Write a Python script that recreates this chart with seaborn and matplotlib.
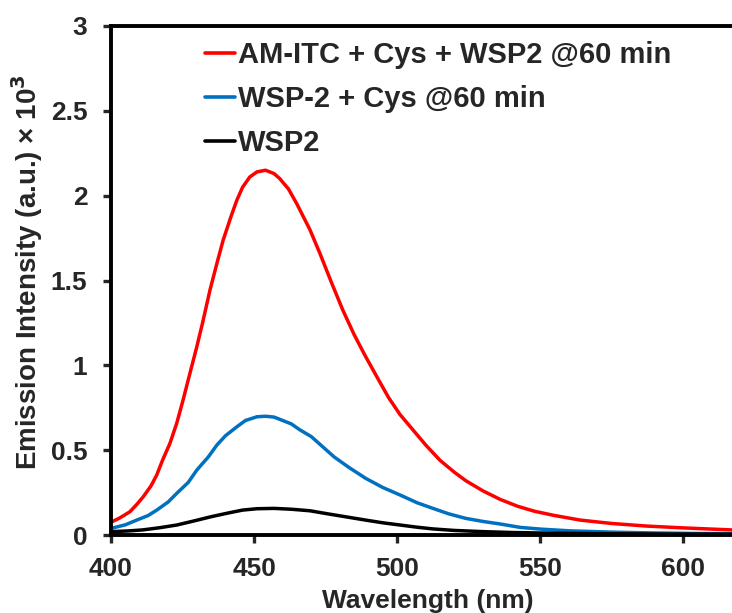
import matplotlib
matplotlib.use("Agg")
import matplotlib.pyplot as plt
import seaborn as sns
import pandas as pd

# ---- data ----
labels = ["AM-ITC + Cys + WSP2 @60 min", "WSP-2 + Cys @60 min", "WSP2"]
colors = ["#FF0000", "#0070C0", "#000000"]

red_x = [400, 403, 406.6, 409, 411.3, 414, 416, 418, 420.6, 423, 425.2, 428, 430, 432,
         434.6, 437, 439.2, 442, 444, 446, 448.5, 451, 454, 457, 459, 462, 465, 469.5,
         473, 477, 481, 485, 489, 493, 497, 501, 505.5, 510, 515, 520, 524, 530, 536,
         542, 548, 555, 564, 575, 587, 600, 617]
red_y = [0.075, 0.10, 0.137, 0.18, 0.226, 0.29, 0.354, 0.44, 0.54, 0.66, 0.796, 0.98,
         1.11, 1.25, 1.444, 1.60, 1.738, 1.88, 1.974, 2.05, 2.11, 2.14, 2.15, 2.13, 2.10,
         2.04, 1.95, 1.80, 1.66, 1.49, 1.326, 1.18, 1.051, 0.93, 0.81, 0.71, 0.62, 0.53,
         0.44, 0.37, 0.32, 0.26, 0.21, 0.17, 0.14, 0.115, 0.088, 0.068, 0.053, 0.042, 0.03]

blue_x = [400, 405, 409, 413, 416, 420, 423, 427, 430, 434, 437, 440, 444, 447, 451, 454,
          457, 460, 463, 466, 470, 474, 478, 483, 489, 495, 501, 507, 512.5, 518, 524,
          530, 536, 543, 550, 560, 575, 590, 605, 617]
blue_y = [0.039, 0.06, 0.088, 0.115, 0.147, 0.195, 0.246, 0.31, 0.383, 0.46, 0.53, 0.585,
          0.638, 0.675, 0.697, 0.70, 0.695, 0.675, 0.655, 0.62, 0.58, 0.52, 0.46, 0.40,
          0.334, 0.28, 0.236, 0.19, 0.157, 0.125, 0.098, 0.08, 0.065, 0.045, 0.035, 0.025,
          0.017, 0.012, 0.009, 0.008]

black_x = [400, 406, 411, 417, 423, 429, 435, 441, 446, 451, 457, 463, 469.5, 475, 480,
           489, 495, 501, 507, 512.5, 520, 530, 540, 550, 570, 590, 617]
black_y = [0.02, 0.024, 0.03, 0.043, 0.059, 0.083, 0.108, 0.13, 0.147, 0.155, 0.157,
           0.152, 0.143, 0.127, 0.113, 0.088, 0.072, 0.059, 0.046, 0.036, 0.027, 0.02,
           0.015, 0.012, 0.008, 0.006, 0.005]

x_ticks = [400, 450, 500, 550, 600]
y_ticks = [0, 0.5, 1, 1.5, 2, 2.5, 3]
y_tick_labels = ["0", "0.5", "1", "1.5", "2", "2.5", "3"]

frames = []
for lab, xs, ys in zip(labels, [red_x, blue_x, black_x], [red_y, blue_y, black_y]):
    frames.append(pd.DataFrame({"Wavelength": xs, "Intensity": ys, "Sample": lab}))
df = pd.concat(frames, ignore_index=True)

sns.set_style("white")
plt.rcParams["font.family"] = ["Liberation Sans", "DejaVu Sans"]
plt.rcParams["font.weight"] = "bold"

fig = plt.figure(figsize=(7.32, 6.13), dpi=100)
ax = fig.add_axes([0.1516, 0.1272, 0.8484, 0.8304])

sns.lineplot(data=df, x="Wavelength", y="Intensity", hue="Sample", hue_order=labels,
             palette=colors, linewidth=2.5, sort=False, estimator=None, ax=ax)

ax.set_xlim(400, 617)
ax.set_ylim(0, 3)
ax.set_xticks(x_ticks)
ax.set_xticklabels([str(t) for t in x_ticks])
ax.set_yticks(y_ticks)
ax.set_yticklabels(y_tick_labels)

for side in ["left", "bottom", "top"]:
    ax.spines[side].set_linewidth(2.8)
    ax.spines[side].set_color("black")
ax.spines["right"].set_visible(False)

ax.tick_params(axis="both", direction="out", length=6, width=2.4, labelsize=19,
               left=True, bottom=True)
ax.tick_params(axis="y", pad=11)
ax.tick_params(axis="x", pad=10)
for lbl in ax.get_xticklabels() + ax.get_yticklabels():
    lbl.set_fontweight("bold")

ax.set_xlabel("Wavelength (nm)", fontsize=19, fontweight="bold")
ax.set_ylabel("Emission Intensity (a.u.) × 10$^{\\mathbf{3}}$", fontsize=20,
              fontweight="bold")
ax.xaxis.set_label_coords(0.510, -0.106)
ax.yaxis.set_label_coords(-0.107, 0.516)

leg = ax.legend(loc="upper left", bbox_to_anchor=(0.119, 1.011), frameon=False,
                fontsize=21, handlelength=1.03, handletextpad=0.08, labelspacing=0.55,
                borderaxespad=0.3)
for t in leg.get_texts():
    t.set_fontweight("bold")
for h in leg.get_lines():
    h.set_linewidth(2.6)

fig.savefig("out.png", dpi=100)
